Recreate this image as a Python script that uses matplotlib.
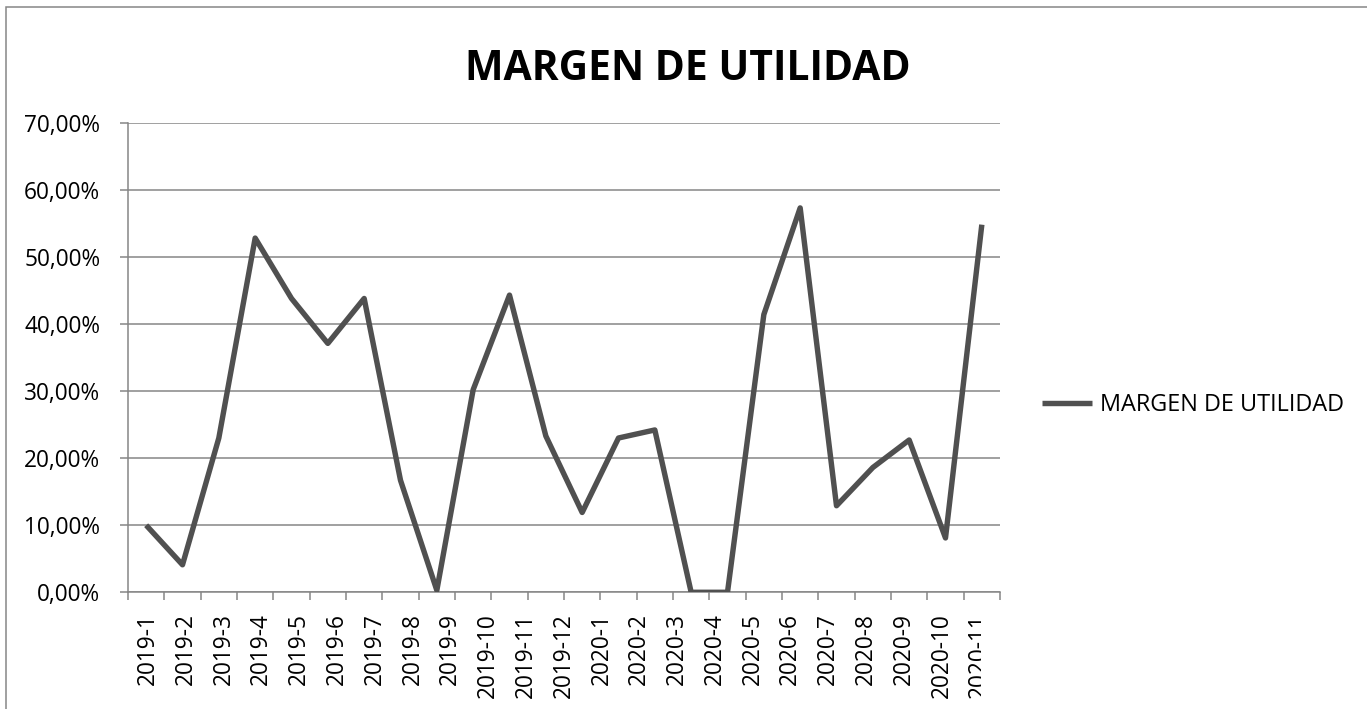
import numpy as np
import matplotlib
matplotlib.use("Agg")
import matplotlib.pyplot as plt
from matplotlib.ticker import FuncFormatter
from matplotlib.patches import Rectangle
from matplotlib.transforms import Bbox, TransformedBbox, IdentityTransform

categories = ["2019-1", "2019-2", "2019-3", "2019-4", "2019-5", "2019-6",
              "2019-7", "2019-8", "2019-9", "2019-10", "2019-11", "2019-12",
              "2020-1", "2020-2", "2020-3", "2020-4", "2020-5", "2020-6",
              "2020-7", "2020-8", "2020-9", "2020-10", "2020-11", "2020-12"]
margen = [0.100, 0.041, 0.230, 0.528, 0.438, 0.371, 0.438, 0.167, 0.003,
          0.302, 0.443, 0.233, 0.119, 0.230, 0.242, 0.000, 0.000, 0.414,
          0.573, 0.129, 0.186, 0.227, 0.081, 0.548]
# tick labels visible in the reference (the last category has no label)
tick_labels = categories[:23]

plt.rcParams['font.family'] = ['Open Sans', 'DejaVu Sans']

W, H = 1367, 709
fig = plt.figure(figsize=(W / 100, H / 100), dpi=100)
ax = fig.add_axes([128 / W, 1 - 592.3 / H, (1000 - 128) / W, (592.3 - 122.7) / H])

gray = '#868686'
line_color = '#505050'

x = np.arange(len(margen))
ax.plot(x, margen, color=line_color, lw=3.9, solid_joinstyle='round',
        solid_capstyle='butt', label='MARGEN DE UTILIDAD', zorder=3)

ax.set_xlim(-0.5, len(margen) - 0.5)
ax.set_ylim(0, 0.70)
ax.set_yticks(np.arange(0, 0.701, 0.10))
ax.yaxis.set_major_formatter(FuncFormatter(lambda v, p: f"{v*100:.2f}%".replace('.', ',')))
ax.grid(axis='y', color=gray, lw=1.1, zorder=0)

# category boundary tick marks
ax.set_xticks(np.arange(len(margen) + 1) - 0.5)
ax.set_xticklabels([])
ax.tick_params(axis='x', which='major', length=6, width=1.1, color=gray)
# labels (as in the reference, slightly wider spacing than categories)
lab_pos = 0.05 + np.arange(len(tick_labels)) * 1.04
ax.set_xticks(lab_pos, minor=True)
ax.set_xticklabels(tick_labels, minor=True, rotation=90, fontsize=16.3)
ax.tick_params(axis='x', which='minor', length=0, pad=15)
ax.tick_params(axis='y', length=6, width=1.1, color=gray, labelsize=16.3, pad=14)

for s in ['top', 'right']:
    ax.spines[s].set_visible(False)
for s in ['left', 'bottom']:
    ax.spines[s].set_color(gray)
    ax.spines[s].set_linewidth(1.1)

clip = TransformedBbox(Bbox([[0, 0], [981, H]]), IdentityTransform())
for lab in ax.xaxis.get_minorticklabels():
    lab.set_clip_box(clip)
    lab.set_clip_on(True)

fig.text(688 / W, 1 - 70 / H, 'MARGEN DE UTILIDAD', ha='center', va='center',
         fontsize=29.4, fontweight='bold')

ax.legend(loc='center left', bbox_to_anchor=(1042 / W, 1 - 405 / H),
          bbox_transform=fig.transFigure, frameon=False, fontsize=16.9,
          handlelength=2.13, handletextpad=0.34, borderpad=0, borderaxespad=0)

fig.patches.append(Rectangle((6 / W, -0.01), 1.0, 1 - 7 / H + 0.01,
                             transform=fig.transFigure, fill=False,
                             edgecolor=gray, lw=1.1))

fig.savefig('out.png', dpi=100)
